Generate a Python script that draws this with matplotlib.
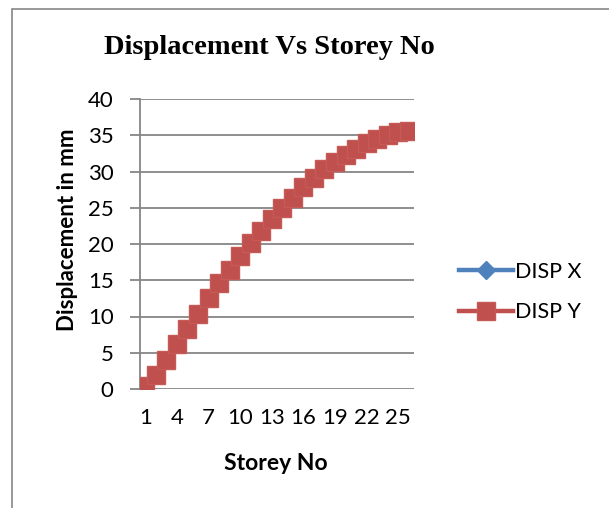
import matplotlib
matplotlib.use("Agg")
import matplotlib.pyplot as plt
from matplotlib.patches import Rectangle
from matplotlib.lines import Line2D

storeys = list(range(1, 27))
disp_y = [0.45, 1.97, 4.0, 6.16, 8.27, 10.4, 12.5, 14.6, 16.4, 18.3, 20.1, 21.8, 23.5,
          25.0, 26.4, 27.8, 29.1, 30.3, 31.3, 32.3, 33.1, 33.9, 34.5, 35.0, 35.4, 35.6]
disp_x = list(disp_y)
xtick_labels = [str(s) for s in storeys[::3]]
yticks = [0, 5, 10, 15, 20, 25, 30, 35, 40]

W, H = 609, 508
fig = plt.figure(figsize=(W / 100, H / 100), dpi=100)
fig.patch.set_facecolor("white")

# outer chart frame
fig.add_artist(Rectangle((12 / W, -0.1), 1.2, 1 - 9 / H + 0.1, transform=fig.transFigure,
                         fill=False, edgecolor="#868686", linewidth=1.2))

ax = fig.add_axes([140 / W, 1 - 389 / H, 274 / W, 290 / H])
n = len(storeys)
pos = list(range(n))
ax.plot(pos, disp_x, color="#4F81BD", linewidth=3, marker="D", markersize=8,
        markerfacecolor="#4F81BD", markeredgecolor="#4F81BD", label="DISP X", zorder=3)
ax.plot(pos, disp_y, color="#C0504D", linewidth=3.2, marker="s", markersize=13.5,
        markerfacecolor="#C0504D", markeredgecolor="#C65A57", markeredgewidth=1.0,
        label="DISP Y", zorder=4)

ax.set_xlim(-0.5, n - 0.5)
ax.set_ylim(0, 40)
ax.set_yticks(yticks)
ax.set_xticks(pos[::3])
ax.set_xticklabels(xtick_labels)
ax.yaxis.grid(True, color="#868686", linewidth=1.3)
ax.set_axisbelow(True)
for s in ["top", "right", "bottom"]:
    ax.spines[s].set_visible(False)
ax.spines["left"].set_color("#868686")
ax.spines["left"].set_linewidth(1.3)
ax.tick_params(axis="y", length=7, width=1.3, color="#868686", pad=12,
               labelsize=16, labelcolor="black")
ax.tick_params(axis="x", length=0, pad=14, labelsize=16, labelcolor="black")
for lab in ax.get_xticklabels() + ax.get_yticklabels():
    lab.set_family("Lato")

fig.text(269 / W, 1 - 48 / H, "Displacement Vs Storey No", ha="center", va="center",
         family="Liberation Serif", fontweight="bold", fontsize=20.5)
fig.text(67 / W, 1 - 230 / H, "Displacement in mm", ha="center", va="center", rotation=90,
         family="Lato", fontweight="bold", fontsize=16)
fig.text(276 / W, 1 - 463 / H, "Storey No", ha="center", va="center",
         family="Lato", fontweight="bold", fontsize=16.5)

handles = [
    Line2D([], [], color="#4F81BD", linewidth=3.2, marker="D", markersize=9,
           markerfacecolor="#4F81BD", markeredgecolor="#4F81BD"),
    Line2D([], [], color="#C0504D", linewidth=3.2, marker="s", markersize=12.5,
           markerfacecolor="#C0504D", markeredgecolor="#C65A57"),
]
leg = fig.legend(handles, ["DISP X", "DISP Y"], loc="center left",
                 bbox_to_anchor=(440 / W, 1 - 292 / H), frameon=False,
                 prop={"family": "Lato", "size": 15.5}, handlelength=2.5,
                 handletextpad=0.1, labelspacing=0.95)

fig.savefig("out.png", dpi=100)
